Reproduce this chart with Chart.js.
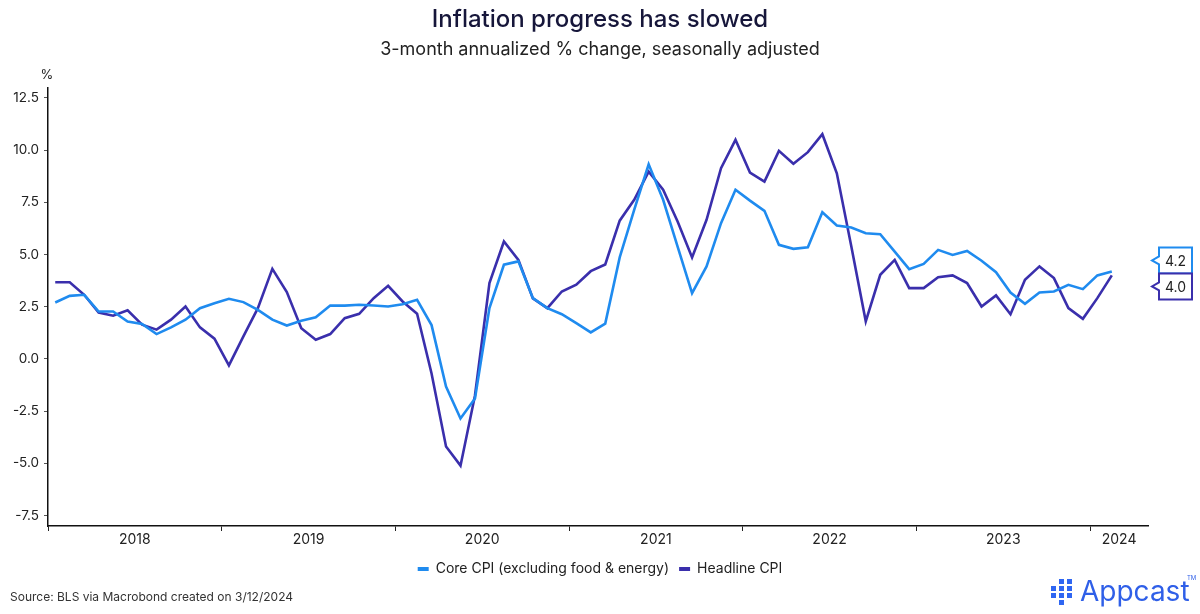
<!DOCTYPE html>
<html>
<head>
<meta charset="utf-8">
<script src="https://cdn.jsdelivr.net/npm/chart.js@4.4.1/dist/chart.umd.min.js"></script>
<style>
  html, body { margin: 0; padding: 0; background: #fff; }
  #wrap { width: 1200px; height: 614px; }
</style>
</head>
<body>
<div id="wrap"><canvas id="cpiChart" width="1200" height="614"></canvas></div>
<script>
"use strict";

// monthly, Jan 2018 .. Feb 2024
const years = ['2018', '2019', '2020', '2021', '2022', '2023', '2024'];
const yTicks = [-7.5, -5, -2.5, 0, 2.5, 5, 7.5, 10, 12.5];

const coreCpi = [
  2.70, 3.02, 3.07, 2.27, 2.27, 1.79, 1.67, 1.19, 1.51, 1.88, 2.43, 2.67,
  2.88, 2.72, 2.35, 1.88, 1.60, 1.83, 1.99, 2.56, 2.55, 2.59, 2.56, 2.51,
  2.62, 2.83, 1.62, -1.32, -2.85, -1.90, 2.43, 4.51, 4.67, 2.91, 2.43, 2.14,
  1.71, 1.27, 1.69, 4.86, 7.14, 9.32, 7.62, 5.38, 3.15, 4.43, 6.50, 8.10,
  7.58, 7.09, 5.46, 5.27, 5.35, 7.02, 6.39, 6.29, 6.02, 5.97, 5.14, 4.30,
  4.55, 5.22, 4.98, 5.17, 4.70, 4.15, 3.18, 2.64, 3.18, 3.23, 3.55, 3.34,
  4.00, 4.19
];

const headlineCpi = [
  3.67, 3.67, 3.07, 2.22, 2.07, 2.33, 1.64, 1.40, 1.88, 2.51, 1.51, 0.97,
  -0.31, 1.08, 2.43, 4.31, 3.20, 1.47, 0.92, 1.19, 1.95, 2.16, 2.91, 3.50,
  2.75, 2.16, -0.70, -4.19, -5.11, -1.75, 3.63, 5.62, 4.74, 2.90, 2.43, 3.23,
  3.55, 4.20, 4.52, 6.62, 7.62, 8.97, 8.10, 6.58, 4.86, 6.66, 9.13, 10.49,
  8.92, 8.49, 9.96, 9.34, 9.90, 10.76, 8.89, 5.40, 1.80, 4.03, 4.74, 3.39,
  3.39, 3.91, 4.00, 3.63, 2.51, 3.04, 2.14, 3.79, 4.43, 3.87, 2.43, 1.92,
  2.91, 4.00
];

const coreColor = '#1f8bef';
const headColor = '#3a2fac';
const fontFamily = 'Inter, "Noto Sans", sans-serif';
const xMax = 76; // months shown after Jan 2018

// month i plotted at mid month
var toPoints = function (arr) {
  return arr.map(function (v, i) { return { x: i + 0.5, y: v }; });
};

// year label sits in the middle of the visible part of its year
var yearLabelPos = years.map(function (y, k) {
  return (k * 12 + Math.min(k * 12 + 12, xMax)) / 2;
});
var xTickValues = [];
years.forEach(function (y, k) {
  xTickValues.push(k * 12);
  xTickValues.push(yearLabelPos[k]);
});

// boxes with the last value on the right side
const endLabels = {
  id: 'endLabels',
  afterDraw(chart) {
    const ctx = chart.ctx;
    const yScale = chart.scales.y;
    const area = chart.chartArea;
    const h = 26, w = 33;
    let items = chart.data.datasets.map(function (ds) {
      const last = ds.data[ds.data.length - 1].y;
      return { v: last, color: ds.borderColor, y: yScale.getPixelForValue(last) };
    });
    items.sort(function (a, b) { return a.y - b.y; });
    // stack them around their mean so they don't overlap
    const mean = items.reduce(function (s, it) { return s + it.y; }, 0) / items.length;
    const startY = mean - (items.length * h) / 2 + h / 2;
    items.forEach(function (it, k) { it.cy = startY + k * h; });
    ctx.save();
    items.forEach(function (it) {
      const bx = area.right + 11;
      const top = it.cy - h / 2, bottom = it.cy + h / 2;
      ctx.beginPath();
      ctx.moveTo(bx, top);
      ctx.lineTo(bx + w, top);
      ctx.lineTo(bx + w, bottom);
      ctx.lineTo(bx, bottom);
      ctx.lineTo(bx, it.cy + 4);
      ctx.lineTo(bx - 7, it.cy);
      ctx.lineTo(bx, it.cy - 4);
      ctx.closePath();
      ctx.fillStyle = '#fff';
      ctx.fill();
      ctx.lineWidth = 2;
      ctx.strokeStyle = it.color;
      ctx.stroke();
      ctx.fillStyle = '#222';
      ctx.font = '14px ' + fontFamily;
      ctx.textAlign = 'center';
      ctx.textBaseline = 'middle';
      ctx.fillText(it.v.toFixed(1), bx + w / 2, it.cy + 1);
    });
    ctx.restore();
  }
};

// unit label, source line and logo
const extras = {
  id: 'extras',
  afterDraw(chart) {
    const ctx = chart.ctx;
    ctx.save();
    ctx.fillStyle = '#222';
    ctx.font = '13px ' + fontFamily;
    ctx.textAlign = 'center';
    ctx.textBaseline = 'middle';
    ctx.fillText('%', 47, 75);

    ctx.font = '12px ' + fontFamily;
    ctx.textAlign = 'left';
    ctx.fillStyle = '#333';
    ctx.fillText('Source: BLS via Macrobond created on 3/12/2024', 10, 597);

    // appcast mark
    ctx.fillStyle = '#2f66f2';
    const cells = [[0, 1], [0, 2], [1, 0], [1, 1], [1, 2], [1, 3], [2, 0], [2, 1], [2, 2]];
    cells.forEach(function (c) {
      ctx.fillRect(1051 + c[0] * 8, 579 + c[1] * 7, 5, 5);
    });
    ctx.fillStyle = '#2f5fe8';
    ctx.font = '28px ' + fontFamily;
    ctx.textBaseline = 'alphabetic';
    ctx.fillText('Appcast', 1080, 601);
    ctx.font = '6px ' + fontFamily;
    ctx.fillText('TM', 1187, 580);
    ctx.restore();
  }
};

const el = document.getElementById('cpiChart');

new Chart(el, {
  type: 'line',
  data: {
    datasets: [
      {
        label: 'Core CPI (excluding food & energy)',
        data: toPoints(coreCpi),
        borderColor: coreColor,
        backgroundColor: coreColor,
        borderWidth: 2.6,
        pointRadius: 0,
        tension: 0
      },
      {
        label: 'Headline CPI',
        data: toPoints(headlineCpi),
        borderColor: headColor,
        backgroundColor: headColor,
        borderWidth: 2.6,
        pointRadius: 0,
        tension: 0
      }
    ]
  },
  options: {
    responsive: false,
    animation: false,
    layout: { padding: { top: 0, right: 0, bottom: 28, left: 0 } },
    scales: {
      x: {
        type: 'linear',
        min: 0,
        max: xMax,
        afterBuildTicks: function (axis) {
          axis.ticks = xTickValues.map(function (v) { return { value: v }; });
        },
        afterFit: function (axis) { axis.height = 26; },
        border: { color: '#111', width: 1.5 },
        grid: {
          drawOnChartArea: false,
          tickLength: 5,
          tickWidth: 1,
          tickColor: function (c) {
            return (c.tick && c.tick.value % 12 === 0) ? '#222' : 'rgba(0,0,0,0)';
          }
        },
        ticks: {
          autoSkip: false,
          maxRotation: 0,
          padding: 0,
          color: '#222',
          font: { family: fontFamily, size: 14 },
          callback: function (value) {
            const k = yearLabelPos.indexOf(value);
            return k >= 0 ? years[k] : '';
          }
        }
      },
      y: {
        min: -8,
        max: 13,
        afterBuildTicks: function (axis) {
          axis.ticks = yTicks.map(function (v) { return { value: v }; });
        },
        afterFit: function (axis) { axis.width = 48; },
        border: { color: '#111', width: 1.5 },
        grid: { drawOnChartArea: false, tickLength: 4, tickColor: '#555' },
        ticks: {
          padding: 5,
          color: '#222',
          font: { family: fontFamily, size: 13.5 },
          callback: function (value) { return value.toFixed(1); }
        }
      },
      // empty gutter on the right for the value boxes
      gutter: {
        position: 'right',
        afterFit: function (axis) { axis.width = 52; },
        border: { display: false },
        grid: { display: false },
        ticks: { display: false }
      }
    },
    plugins: {
      title: {
        display: true,
        text: 'Inflation progress has slowed',
        color: '#16163a',
        font: { family: fontFamily, size: 24, weight: '500' },
        padding: { top: 5, bottom: 0 }
      },
      subtitle: {
        display: true,
        text: '3-month annualized % change, seasonally adjusted',
        color: '#222',
        font: { family: fontFamily, size: 18 },
        padding: { top: 5, bottom: 27 }
      },
      legend: {
        position: 'bottom',
        labels: {
          color: '#222',
          boxWidth: 11,
          boxHeight: 4,
          padding: 10,
          font: { family: fontFamily, size: 14 },
          generateLabels: function (chart) {
            const items = Chart.defaults.plugins.legend.labels.generateLabels(chart);
            items.forEach(function (it) { it.lineWidth = 0; });
            return items;
          }
        }
      },
      tooltip: { enabled: false }
    }
  },
  plugins: [endLabels, extras]
});
</script>
</body>
</html>
